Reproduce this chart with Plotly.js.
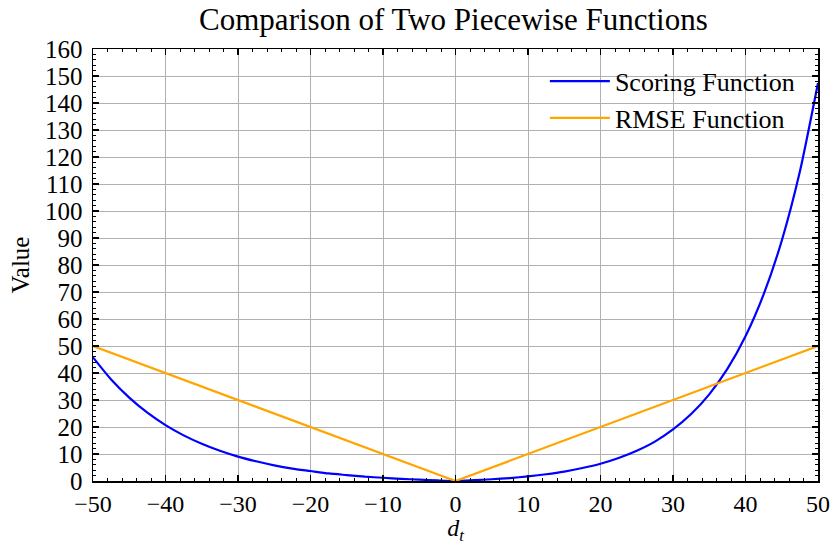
<!DOCTYPE html>
<html>
<head>
<meta charset="utf-8">
<script src="https://cdn.plot.ly/plotly-3.0.1.min.js"></script>
<style>html,body{margin:0;padding:0;background:#fff;}#chart{width:832px;height:545px;}</style>
</head>
<body>
<div id="chart"></div>
<script>
// d_t values (x) and function values
const dValues = [-50,-47.5,-45,-42.5,-40,-37.5,-35,-32.5,-30,-27.5,-25,-22.5,-20,-17.5,-15,-12.5,-10,-7.5,-5,-2.5,0,
                 2.5,5,7.5,10,12.5,15,17.5,20,22.5,25,27.5,30,32.5,35,37.5,40,42.5,45,47.5,50];
const scoringValues = [45.8,37.6,30.9,25.3,20.7,16.9,13.8,11.2,9.05,7.3,5.8,4.6,3.7,2.8,2.2,1.6,1.2,0.8,0.5,0.2,0,
                       0.3,0.65,1.1,1.72,2.5,3.48,4.8,6.39,8.5,11.2,14.6,19.1,24.8,32.1,41.5,53.6,69.1,89.0,114.6,147.4];
const rmseX = [-50, 0, 50];
const rmseValues = [50, 0, 50];
const xTicks = [-50,-40,-30,-20,-10,0,10,20,30,40,50];
const yTicks = [0,10,20,30,40,50,60,70,80,90,100,110,120,130,140,150,160];

const font = '"Liberation Serif", "DejaVu Serif", serif';
const traces = [
  {x: dValues, y: scoringValues, type: 'scatter', mode: 'lines', name: 'Scoring Function',
   line: {color: '#0000ff', width: 2.2, shape: 'spline', smoothing: 0.6}},
  {x: rmseX, y: rmseValues, type: 'scatter', mode: 'lines', name: 'RMSE Function',
   line: {color: '#ffa500', width: 2.2}}
];
const axisCommon = {
  showline: true, linecolor: '#000', linewidth: 1.5, mirror: 'allticks',
  ticks: 'inside', ticklen: 6, tickwidth: 1.2, tickcolor: '#000',
  showgrid: true, gridcolor: '#b0b0b0', gridwidth: 1, zeroline: false,
  tickfont: {family: font, size: 25, color: '#000'},
  minor: {ticks: 'inside', ticklen: 3, tickwidth: 1, tickcolor: '#000', dtick: 2, showgrid: false}
};
const layout = {
  width: 832, height: 545,
  margin: {l: 93, r: 14, t: 49, b: 64},
  paper_bgcolor: '#fff', plot_bgcolor: '#fff',
  title: {text: 'Comparison of Two Piecewise Functions', font: {family: font, size: 31, color: '#000'},
          x: 0.545, xanchor: 'center', y: 0.985, yanchor: 'top'},
  xaxis: Object.assign({}, axisCommon, {range: [-50, 50], tickvals: xTicks, ticklabelstandoff: 1,
          tickfont: {family: font, size: 24, color: '#000'},
          title: {text: '<i>d</i><sub><i>t</i></sub>', font: {family: font, size: 24, color: '#000'}, standoff: 5}}),
  yaxis: Object.assign({}, axisCommon, {range: [0, 160], tickvals: yTicks, ticklabelstandoff: 4,
          title: {text: 'Value', font: {family: font, size: 25, color: '#000'}, standoff: 8}}),
  legend: {x: 0.975, y: 0.98, xanchor: 'right', yanchor: 'top', bgcolor: 'rgba(255,255,255,0)',
           font: {family: font, size: 26, color: '#000'}, borderwidth: 0, itemwidth: 60, tracegroupgap: 0},
  showlegend: true
};
Plotly.newPlot('chart', traces, layout, {displayModeBar: false, staticPlot: true});
</script>
</body>
</html>
